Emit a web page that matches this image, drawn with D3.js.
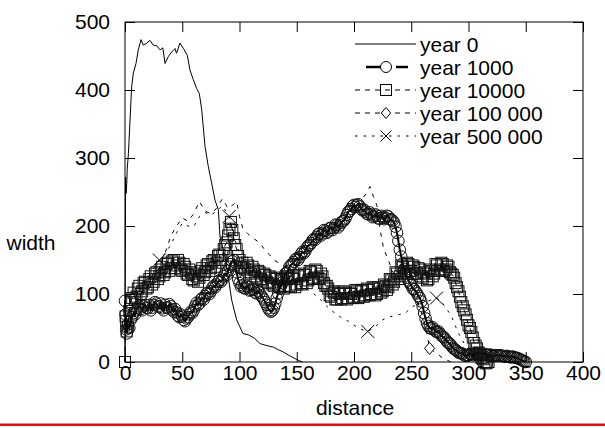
<!DOCTYPE html>
<html><head><meta charset="utf-8">
<script src="https://cdn.jsdelivr.net/npm/d3@7/dist/d3.min.js"></script>
<style>
body{margin:0;background:#fff}
svg{display:block}
text{font-family:"Liberation Sans",Arial,sans-serif;fill:#000}
</style>
</head><body>
<svg id="chart" width="605" height="428"></svg>
<script>
// ---------- DATA ----------
const xTickValues = [0, 50, 100, 150, 200, 250, 300, 350, 400];
const yTickValues = [0, 100, 200, 300, 400, 500];
const xAxisTitle = "distance";
const yAxisTitle = "width";
const seriesNames = ["year 0", "year 1000", "year 10000", "year 100 000", "year 500 000"];

// year 0 (solid line, no markers)
const distYear0 = [0, 0.5, 1, 1.5, 2, 3, 4.4, 5.8, 7.3, 9.6, 11.6, 14, 16, 19, 21.8, 24.7, 27.7, 30.6, 33, 35, 37.8, 40.8, 43.7, 45, 48, 51, 54.4, 56.8, 59.7, 62.6, 64.9, 67, 69.9, 72.8, 75.7, 78.6, 81.5, 83, 87.3, 90.2, 93.2, 97.5, 103, 107.7, 113, 118, 124, 129.5, 134, 138, 143, 148.5, 152, 155];
const widthYear0 = [0, 272, 248, 262, 285, 307, 356, 405, 425, 439, 459, 474, 466, 469, 473, 466, 465, 459, 462, 439, 449, 456, 461, 454, 469, 461, 451, 429, 415, 402, 395, 371, 317, 287, 263, 238, 224, 184, 155, 125, 91, 62, 42, 40, 35, 27, 24, 22, 18, 15, 10, 5, 2, 0];

// shared distances for year 1000 and year 10000
const distDense = [0,0.5,1,1.5,
2.5,3.75,5,6.25,7.5,8.75,10,11.25,12.5,13.75,15,16.25,17.5,18.75,20,21.25,22.5,23.75,25,26.25,27.5,28.75,30,31.25,32.5,33.75,35,36.25,37.5,38.75,40,41.25,42.5,43.75,45,46.25,47.5,48.75,
50,51.25,52.5,53.75,55,56.25,57.5,58.75,60,61.25,62.5,63.75,65,66.25,67.5,68.75,70,71.25,72.5,73.75,75,76.25,77.5,78.75,80,81.25,82.5,83.75,85,86.25,87.5,88.75,90,91.25,92.5,93.75,95,96.25,97.5,98.75,
100,101.25,102.5,103.75,105,106.25,107.5,108.75,110,111.25,112.5,113.75,115,116.25,117.5,118.75,120,121.25,122.5,123.75,125,126.25,127.5,128.75,130,131.25,132.5,133.75,135,136.25,137.5,138.75,140,141.25,142.5,143.75,145,146.25,147.5,148.75,
150,151.25,152.5,153.75,155,156.25,157.5,158.75,160,161.25,162.5,163.75,165,166.25,167.5,168.75,170,171.25,172.5,173.75,175,176.25,177.5,178.75,180,181.25,182.5,183.75,185,186.25,187.5,188.75,190,191.25,192.5,193.75,195,196.25,197.5,198.75,
200,201.25,202.5,203.75,205,206.25,207.5,208.75,210,211.25,212.5,213.75,215,216.25,217.5,218.75,220,221.25,222.5,223.75,225,226.25,227.5,228.75,230,231.25,232.5,233.75,235,236.25,237.5,238.75,240,241.25,242.5,243.75,245,246.25,247.5,248.75,
250,251.25,252.5,253.75,255,256.25,257.5,258.75,260,261.25,262.5,263.75,265,266.25,267.5,268.75,270,271.25,272.5,273.75,275,276.25,277.5,278.75,280,281.25,282.5,283.75,285,286.25,287.5,288.75,290,291.25,292.5,293.75,295,296.25,297.5,298.75,
300,301.25,302.5,303.75,305,306.25,307.5,308.75,310,311.25,312.5,313.75,315,316.25,317.5,318.75,320,321.25,322.5,323.75,325,326.25,327.5,328.75,330,331.25,332.5,333.75,335,336.25,337.5,338.75,340,341.25,342.5,343.75,345,346.25,347.5,348.75,350];

const widthYear1000 = [90,70,48,42,
55,50,62,66,72,70,76,80,82,78,76,82,84,80,79,84,76,80,84,88,86,82,81,86,79,76,84,80,80,85,82,77,74,78,73,68,66,70,
67,62,60,64,66,70,74,72,76,82,87,84,86,92,94,92,97,101,102,100,104,109,112,110,114,118,120,118,121,126,130,128,134,140,144,148,150,142,132,122,
116,111,113,109,108,112,110,105,106,108,106,102,101,104,102,98,95,92,88,84,79,76,74,76,80,86,94,101,108,112,117,124,130,131,134,140,143,144,147,151,
152,150,154,159,162,160,163,168,171,172,175,179,181,180,184,188,189,186,189,194,193,190,192,197,197,194,197,202,201,198,201,205,207,208,211,216,221,222,225,229,
231,228,231,232,229,225,223,224,221,218,217,220,217,213,214,217,215,211,211,215,213,210,212,215,214,210,209,208,205,199,190,178,165,155,145,137,131,124,120,116,
113,108,107,104,101,97,94,89,82,72,64,57,53,50,49,51,48,45,44,45,42,39,37,36,33,30,28,27,24,21,19,18,16,14,13,13,12,10,9,10,
10,12,11,10,12,13,11,12,13,11,11,12,11,10,10,11,10,9,9,10,10,9,10,9,9,8,8,9,8,7,7,8,7,6,6,5,4,3,2,1,0];

const widthYear10000 = [0,67,60,45,
52,75,88,94,102,92,96,108,112,100,104,116,118,108,110,122,126,114,118,130,132,122,126,136,140,128,132,144,146,134,138,148,150,138,142,150,146,136,
134,144,140,130,128,136,132,122,120,130,126,118,124,134,138,128,132,142,144,134,138,148,150,140,146,156,158,150,156,166,172,176,186,196,206,194,182,172,166,156,
150,140,146,138,136,146,142,132,130,140,136,126,124,134,132,122,120,130,128,118,116,126,124,114,112,124,122,112,110,122,120,108,112,126,124,112,110,124,122,110,
114,128,126,114,116,130,128,116,120,134,132,122,124,136,134,124,122,130,126,116,112,112,108,98,96,104,102,92,92,102,100,92,94,104,102,92,94,102,100,94,
96,106,104,94,96,106,104,96,98,108,106,98,100,110,108,98,100,110,108,102,104,114,112,106,110,122,120,114,118,132,130,122,126,142,140,130,134,146,144,134,
134,142,140,130,130,138,136,126,124,132,130,120,122,136,134,126,130,144,142,134,136,146,144,134,136,142,140,132,130,128,124,116,110,104,96,88,82,76,70,62,
54,50,44,36,28,24,20,14,10,6,4,0,-2,-1,0];

// year 100 000 (dashed, diamonds)
const distYear100k = [0, 5, 10, 15, 20, 26, 30, 35, 40, 45, 50, 55, 60, 65, 70, 75, 80, 85, 90, 95, 97.5, 100, 103, 107, 112, 118, 122, 126, 130, 135, 140, 146, 150, 155, 160, 165, 170, 175, 180, 185, 190, 195, 200, 205, 210, 214, 217, 220, 223, 226, 230, 234, 240, 246, 250, 255, 260, 263, 266, 272, 278, 285];
const widthYear100k = [45, 75, 92, 102, 112, 125, 138, 160, 185, 200, 212, 207, 218, 236, 222, 218, 226, 240, 226, 232, 236, 214, 196, 189, 182, 175, 165, 158, 150, 145, 140, 140, 144, 152, 164, 176, 186, 192, 197, 204, 210, 218, 226, 236, 246, 258, 243, 230, 192, 166, 150, 132, 120, 111, 102, 91, 67, 48, 20, 13, 5, 0];
const markerDistYear100k = [266];

// year 500 000 (dotted, crosses)
const distYear500k = [0, 5, 10, 15, 20, 25, 30, 35, 40, 45, 50, 55, 60, 65, 70, 75, 80, 85, 91, 96, 100, 105, 110, 115, 120, 125, 130, 135, 140, 145, 152, 155, 160, 165, 170, 175, 180, 185, 190, 195, 200, 205, 212, 215, 220, 225, 230, 235, 240, 245, 250, 255, 260, 265, 272, 276, 280, 285, 288, 292, 296, 300, 305, 310, 315];
const widthYear500k = [60, 80, 98, 112, 124, 138, 150, 160, 172, 190, 204, 200, 199, 214, 220, 216, 222, 230, 214, 180, 160, 145, 135, 128, 124, 120, 118, 116, 115, 114, 112, 110, 106, 100, 93, 84, 76, 70, 64, 60, 54, 49, 45, 48, 54, 62, 66, 68, 70, 72, 80, 85, 88, 90, 94, 90, 80, 68, 55, 40, 28, 18, 8, 2, 0];
const markerDistYear500k = [30, 91, 212, 272];

// ---------- CHART ----------
if (widthYear1000.length !== distDense.length) throw new Error("len1000 " + widthYear1000.length + " vs " + distDense.length);
if (widthYear10000.length > distDense.length) throw new Error("len10000 " + widthYear10000.length);

const svg = d3.select("#chart");
const W = 605, H = 428;
const padL = 125, padR = 583, padT = 22, padB = 362;
const x = d3.scaleLinear().domain([0, 400]).range([padL, padR]);
const y = d3.scaleLinear().domain([0, 500]).range([padB, padT]);
const FS = 21;

svg.append("rect").attr("width", W).attr("height", H).attr("fill", "#fff");

const zip = (xs, ys) => ys.map((v, i) => [xs[i], v]);
const line = d3.line().x(d => x(d[0])).y(d => y(d[1]));

const g = svg.append("g");

// year 0
g.append("path").datum(zip(distYear0, widthYear0))
  .attr("d", line).attr("fill", "none").attr("stroke", "#000").attr("stroke-width", 1);

// year 10000 dashed line + squares
const d10k = zip(distDense, widthYear10000);
g.append("path").datum(d10k).attr("d", line).attr("fill", "none")
  .attr("stroke", "#000").attr("stroke-width", 1).attr("stroke-dasharray", "5,5");
g.selectAll(".sq").data(d10k).join("rect").attr("class", "sq")
  .attr("x", d => x(d[0]) - 5.5).attr("y", d => y(d[1]) - 5.5)
  .attr("width", 11).attr("height", 11)
  .attr("fill", "none").attr("stroke", "#111").attr("stroke-width", 1);

// year 1000 thick line + circles
const d1k = zip(distDense, widthYear1000);
g.append("path").datum(d1k).attr("d", line).attr("fill", "none")
  .attr("stroke", "#000").attr("stroke-width", 2);
g.selectAll(".ci").data(d1k).join("circle").attr("class", "ci")
  .attr("cx", d => x(d[0])).attr("cy", d => y(d[1])).attr("r", 5.8)
  .attr("fill", "none").attr("stroke", "#111").attr("stroke-width", 1);

// year 100 000 dashed + diamonds
const d100k = zip(distYear100k, widthYear100k);
g.append("path").datum(d100k).attr("d", line).attr("fill", "none")
  .attr("stroke", "#000").attr("stroke-width", 1).attr("stroke-dasharray", "4,6");
const diamond = (cx, cy, s) => `M${cx},${cy - s}L${cx + s * 0.85},${cy}L${cx},${cy + s}L${cx - s * 0.85},${cy}Z`;
g.selectAll(".dm").data(d100k.filter(d => markerDistYear100k.includes(d[0]))).join("path").attr("class", "dm")
  .attr("d", d => diamond(x(d[0]), y(d[1]), 6)).attr("fill", "#fff").attr("stroke", "#000").attr("stroke-width", 1);

// year 500 000 dotted + crosses
const d500k = zip(distYear500k, widthYear500k);
g.append("path").datum(d500k).attr("d", line).attr("fill", "none")
  .attr("stroke", "#000").attr("stroke-width", 1).attr("stroke-dasharray", "2.5,6");
const cross = (cx, cy, s) => `M${cx - s},${cy - s}L${cx + s},${cy + s}M${cx - s},${cy + s}L${cx + s},${cy - s}`;
g.selectAll(".cr").data(d500k.filter(d => markerDistYear500k.includes(d[0]))).join("path").attr("class", "cr")
  .attr("d", d => cross(x(d[0]), y(d[1]), 6.5)).attr("fill", "none").attr("stroke", "#000").attr("stroke-width", 1);

// ---------- AXES (inward ticks, mirrored) ----------
const styleAxis = sel => {
  sel.select(".domain").remove();
  sel.selectAll("line").attr("stroke", "#000").attr("stroke-width", 1);
  sel.selectAll("text").attr("font-size", FS).attr("fill", "#000")
    .style("font-family", '"Liberation Sans",Arial,sans-serif');
};
svg.append("g").attr("transform", `translate(0,${padB})`)
  .call(d3.axisBottom(x).tickValues(xTickValues).tickSize(-10).tickPadding(3).tickFormat(d3.format("d")))
  .call(styleAxis);
svg.append("g").attr("transform", `translate(0,${padT})`)
  .call(d3.axisTop(x).tickValues(xTickValues).tickSize(-10).tickFormat(""))
  .call(styleAxis);
svg.append("g").attr("transform", `translate(${padL},0)`)
  .call(d3.axisLeft(y).tickValues(yTickValues).tickSize(-10).tickPadding(15).tickFormat(d3.format("d")))
  .call(styleAxis);
svg.append("g").attr("transform", `translate(${padR},0)`)
  .call(d3.axisRight(y).tickValues(yTickValues).tickSize(-10).tickFormat(""))
  .call(styleAxis);
svg.append("rect").attr("x", padL).attr("y", padT).attr("width", padR - padL).attr("height", padB - padT)
  .attr("fill", "none").attr("stroke", "#000").attr("stroke-width", 1);

// titles
svg.append("text").attr("x", (padL + padR) / 2 + 1).attr("y", 407).attr("text-anchor", "middle")
  .attr("dominant-baseline", "central").attr("font-size", FS).text(xAxisTitle);
svg.append("text").attr("x", 31).attr("y", 242).attr("text-anchor", "middle")
  .attr("dominant-baseline", "central").attr("font-size", FS).text(yAxisTitle);

// ---------- LEGEND ----------
const legY0 = 44, legDy = 23, lx0 = 355, lx1 = 416, mx = 386, tx = 420;
const leg = svg.append("g");
seriesNames.forEach((name, i) => {
  const yy = legY0 + i * legDy;
  const row = leg.append("g");
  if (i === 0) {
    row.append("line").attr("x1", lx0).attr("x2", lx1).attr("y1", yy).attr("y2", yy).attr("stroke", "#000").attr("stroke-width", 1);
  } else if (i === 1) {
    row.append("line").attr("x1", 366).attr("x2", 381).attr("y1", yy).attr("y2", yy).attr("stroke", "#000").attr("stroke-width", 2.5);
    row.append("line").attr("x1", 396).attr("x2", 408).attr("y1", yy).attr("y2", yy).attr("stroke", "#000").attr("stroke-width", 2.5);
    row.append("circle").attr("cx", mx).attr("cy", yy).attr("r", 5.5).attr("fill", "#fff").attr("stroke", "#000").attr("stroke-width", 1);
  } else if (i === 2) {
    row.append("line").attr("x1", lx0).attr("x2", lx1).attr("y1", yy).attr("y2", yy).attr("stroke", "#000").attr("stroke-dasharray", "5,5");
    row.append("rect").attr("x", mx - 5.5).attr("y", yy - 5.5).attr("width", 11).attr("height", 11).attr("fill", "none").attr("stroke", "#000");
  } else if (i === 3) {
    row.append("line").attr("x1", lx0).attr("x2", lx1).attr("y1", yy).attr("y2", yy).attr("stroke", "#000").attr("stroke-dasharray", "5,5");
    row.append("path").attr("d", diamond(mx, yy, 5.5)).attr("fill", "#fff").attr("stroke", "#000");
  } else {
    row.append("line").attr("x1", lx0).attr("x2", lx1).attr("y1", yy).attr("y2", yy).attr("stroke", "#000").attr("stroke-dasharray", "2.5,6");
    row.append("path").attr("d", cross(mx, yy, 5.5)).attr("fill", "none").attr("stroke", "#000");
  }
  row.append("text").attr("x", tx).attr("y", yy).attr("dominant-baseline", "central").attr("font-size", FS).text(name);
});

// red rule at bottom
svg.append("rect").attr("x", 0).attr("y", 423.5).attr("width", W).attr("height", 2.5).attr("fill", "#ff0000");
</script>
</body></html>
